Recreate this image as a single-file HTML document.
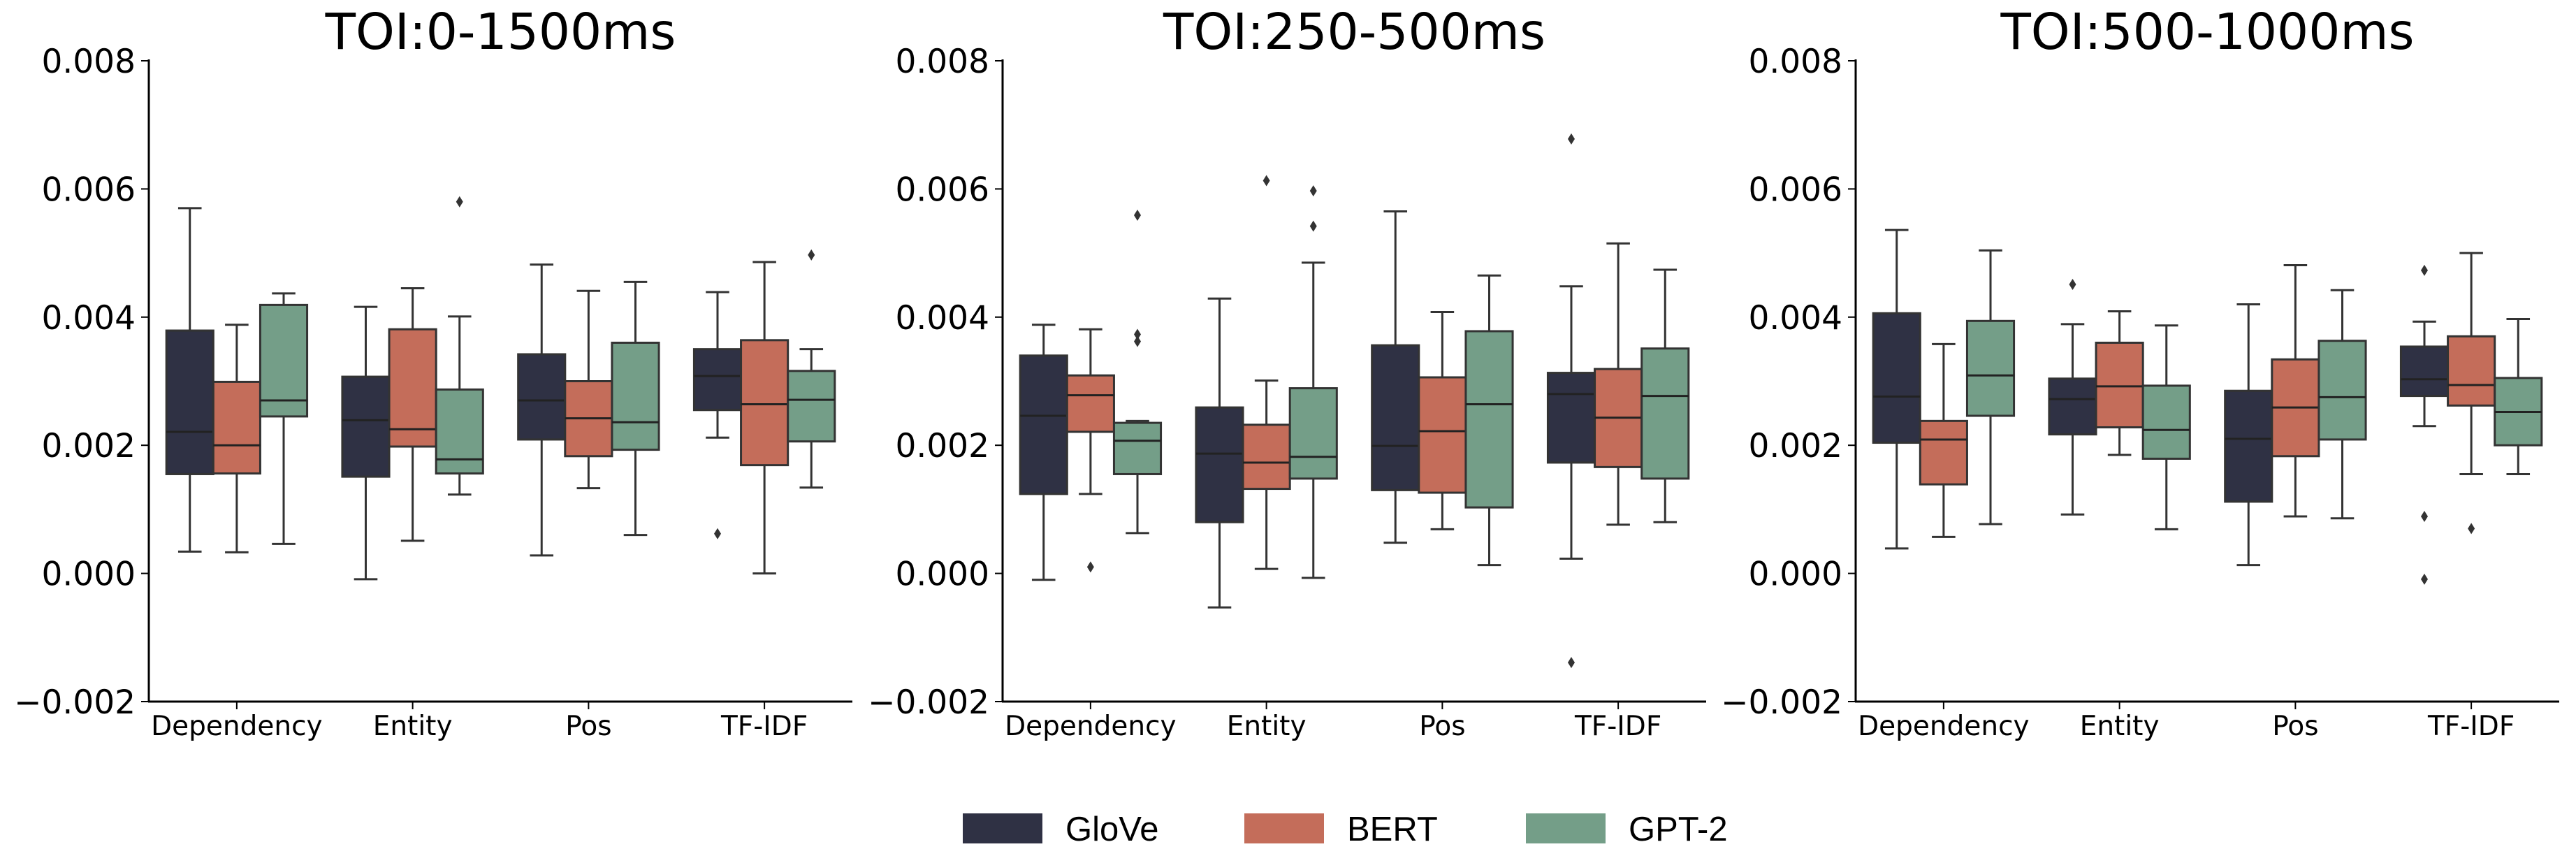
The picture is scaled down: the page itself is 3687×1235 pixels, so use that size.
<!DOCTYPE html>
<html><head><meta charset="utf-8">
<style>
html,body{margin:0;padding:0;background:#fff;}
svg{display:block;}
</style></head>
<body>
<svg id="chart" width="3687" height="1235" viewBox="0 0 3687 1235" xmlns="http://www.w3.org/2000/svg"></svg>
<script>
const categories = ["Dependency","Entity","Pos","TF-IDF"];
const seriesNames = ["GloVe","BERT","GPT-2"];
const seriesColors = ["#2f3144","#c46d5a","#749e88"];
const panelTitles = ["TOI:0-1500ms","TOI:250-500ms","TOI:500-1000ms"];
const yTicks = [-0.002,0,0.002,0.004,0.006,0.008];
const yTickLabels = ["\u22120.002","0.000","0.002","0.004","0.006","0.008"];
// stats in units of 1e-3: [whiskerLow, q1, median, q3, whiskerHigh]
const p1Stats = [
 [[0.34,1.55,2.21,3.79,5.70],[0.33,1.56,2.00,2.99,3.88],[0.46,2.45,2.70,4.19,4.37]],
 [[-0.09,1.51,2.39,3.07,4.16],[0.51,1.98,2.25,3.81,4.45],[1.23,1.56,1.78,2.87,4.01]],
 [[0.28,2.09,2.70,3.42,4.82],[1.33,1.83,2.42,3.00,4.41],[0.60,1.93,2.36,3.60,4.55]],
 [[2.12,2.55,3.08,3.50,4.39],[0.00,1.69,2.64,3.64,4.86],[1.34,2.06,2.71,3.16,3.50]]
];
const p1Outliers = [[[],[],[]],[[],[],[5.80]],[[],[],[]],[[0.62],[],[4.97]]];
const p2Stats = [
 [[-0.10,1.24,2.46,3.40,3.88],[1.24,2.21,2.78,3.09,3.81],[0.63,1.55,2.07,2.35,2.38]],
 [[-0.53,0.80,1.87,2.59,4.29],[0.07,1.32,1.73,2.32,3.01],[-0.07,1.48,1.82,2.89,4.85]],
 [[0.48,1.30,1.99,3.56,5.65],[0.69,1.26,2.22,3.06,4.08],[0.13,1.03,2.64,3.78,4.65]],
 [[0.23,1.73,2.80,3.13,4.48],[0.76,1.66,2.43,3.19,5.15],[0.80,1.48,2.77,3.51,4.74]]
];
const p2Outliers = [[[],[0.10],[5.59,3.73,3.62]],[[],[6.13],[5.97,5.42]],[[],[],[]],[[6.78,-1.39],[],[]]];
const p3Stats = [
 [[0.39,2.04,2.76,4.06,5.36],[0.57,1.39,2.09,2.38,3.58],[0.77,2.46,3.09,3.94,5.04]],
 [[0.92,2.17,2.72,3.04,3.89],[1.85,2.28,2.92,3.60,4.09],[0.69,1.79,2.24,2.93,3.87]],
 [[0.13,1.12,2.10,2.85,4.20],[0.89,1.83,2.59,3.34,4.81],[0.86,2.09,2.75,3.63,4.42]],
 [[2.30,2.77,3.03,3.54,3.93],[1.55,2.62,2.94,3.70,5.00],[1.55,2.00,2.52,3.05,3.97]]
];
const p3Outliers = [[[],[],[]],[[4.51],[],[]],[[],[],[]],[[4.73,0.89,-0.09],[0.70],[]]];

const allStats = [p1Stats,p2Stats,p3Stats];
const allOutliers = [p1Outliers,p2Outliers,p3Outliers];
const panelLeft = [213,1435,2656];
const plotW = 1007, yTop = 87, yBot = 1004;
const NS = "http://www.w3.org/2000/svg";
const svg = document.getElementById("chart");
function mk(tag, attrs, parent){const e=document.createElementNS(NS,tag);for(const k in attrs)e.setAttribute(k,attrs[k]);(parent||svg).appendChild(e);return e;}
function yScale(v){return yBot-(v-(-0.002))/0.010*(yBot-yTop);}

for(let p=0;p<3;p++){
  const x0=panelLeft[p];
  const g=mk("g",{});
  
  
  const xBand=i=>x0+plotW*(i+0.5)/categories.length;
  const band=plotW/categories.length, boxW=band*0.8/seriesNames.length;
  // title
  const t=mk("text",{x:x0+plotW/2,y:70,"text-anchor":"middle","font-family":"DejaVu Sans, sans-serif","font-size":71,fill:"#000"},g);
  t.textContent=panelTitles[p];
  
  
  // axes
  const ya=mk("line",{x1:x0,y1:yTop-2,x2:x0,y2:yBot,stroke:"#000","stroke-width":3},g);
  
  
  const xa=mk("line",{x1:x0-1,y1:yBot,x2:x0+plotW,y2:yBot,stroke:"#000","stroke-width":3},g);
  
  
  yTicks.forEach((v,i)=>{
    const y=yScale(v);
    mk("line",{x1:x0-11,y1:y,x2:x0,y2:y,stroke:"#000","stroke-width":2},g);
    const lt=mk("text",{x:x0-19,y:y+17,"text-anchor":"end","font-family":"DejaVu Sans, sans-serif","font-size":47,fill:"#000"},g);
    lt.textContent=yTickLabels[i];
    
    
  });
  categories.forEach((c,i)=>{
    const cx=xBand(i);
    mk("line",{x1:cx,y1:yBot,x2:cx,y2:yBot+11,stroke:"#000","stroke-width":2},g);
    const lt=mk("text",{x:cx,y:yBot+48,"text-anchor":"middle","font-family":"DejaVu Sans, sans-serif","font-size":39,fill:"#000"},g);
    lt.textContent=c;
    
    
    seriesNames.forEach((s,j)=>{
      const st=allStats[p][i][j].map(v=>v*0.001);
      const bx=cx-band*0.4+j*boxW, mid=bx+boxW/2;
      const bg=mk("g",{},g);
      
      
      mk("line",{x1:mid,y1:yScale(st[0]),x2:mid,y2:yScale(st[1]),stroke:"#333","stroke-width":3},bg);
      mk("line",{x1:mid,y1:yScale(st[3]),x2:mid,y2:yScale(st[4]),stroke:"#333","stroke-width":3},bg);
      mk("line",{x1:mid-boxW/4,y1:yScale(st[0]),x2:mid+boxW/4,y2:yScale(st[0]),stroke:"#333","stroke-width":3},bg);
      mk("line",{x1:mid-boxW/4,y1:yScale(st[4]),x2:mid+boxW/4,y2:yScale(st[4]),stroke:"#333","stroke-width":3},bg);
      mk("rect",{x:bx,y:yScale(st[3]),width:boxW,height:yScale(st[1])-yScale(st[3]),fill:seriesColors[j],stroke:"#333","stroke-width":3},bg);
      mk("line",{x1:bx,y1:yScale(st[2]),x2:bx+boxW,y2:yScale(st[2]),stroke:"#222","stroke-width":3},bg);
      allOutliers[p][i][j].forEach(o=>{
        const oy=yScale(o*0.001);
        const d=mk("path",{d:`M${mid},${oy-8} L${mid+5},${oy} L${mid},${oy+8} L${mid-5},${oy} Z`,fill:"#333"},bg);
        
        
      });
    });
  });
}
// legend
const legendX=[1378,1781,2184];
const lg=mk("g",{});


seriesNames.forEach((s,j)=>{
  const eg=mk("g",{},lg);
  
  
  mk("rect",{x:legendX[j],y:1164,width:114,height:43,fill:seriesColors[j]},eg);
  const t=mk("text",{x:legendX[j]+147,y:1203,"font-family":"Liberation Sans, sans-serif","font-size":49,fill:"#000"},eg);
  t.textContent=s;
});
</script>
</body></html>
